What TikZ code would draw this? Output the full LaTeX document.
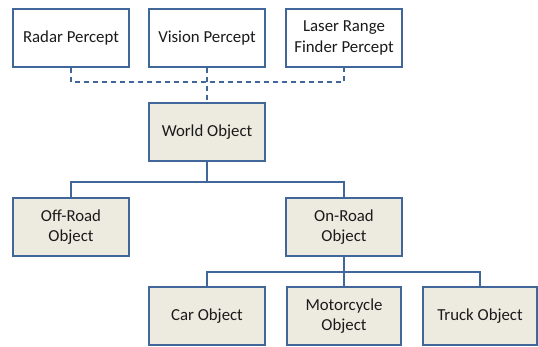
\documentclass[tikz,border=0pt]{standalone}
\usepackage{fontspec}
\setmainfont{Carlito}
\definecolor{bdr}{HTML}{41669A}
\definecolor{fillc}{HTML}{EDEBE0}
\definecolor{txt}{HTML}{1A1A1A}
\begin{document}
\begin{tikzpicture}[x=1pt,y=-1pt,
  box/.style={draw=bdr,line width=1.6pt,minimum width=116pt,minimum height=58pt,align=center,font=\fontsize{16.8}{20.5}\selectfont,text=txt,inner sep=1pt},
  obj/.style={box,fill=fillc},
  perc/.style={box,fill=white},
  link/.style={draw=bdr,line width=1.4pt},
  dlink/.style={link,dashed,dash pattern=on 5pt off 4pt}]
\useasboundingbox (0,0) rectangle (538,347);
\node[perc] (radar) at (71,38) {Radar Percept};
\node[perc] (vision) at (207,38) {Vision Percept};
\node[perc] (laser) at (344,38) {Laser Range\\Finder Percept};
\node[obj] (world) at (207,132) {World Object};
\node[obj] (off) at (71,227) {Off-Road\\Object};
\node[obj] (on) at (344,227) {On-Road\\Object};
\node[obj] (car) at (207,316) {Car Object};
\node[obj,minimum width=114pt] (moto) at (344,316) {Motorcycle\\Object};
\node[obj,minimum width=114pt] (truck) at (480,316) {Truck Object};
\coordinate (dj) at (207,82);
\draw[dlink] (radar.south) |- (dj) -| (laser.south);
\draw[dlink] (vision.south) -- (world.north);
\coordinate (j1) at (207,182);
\draw[link] (world.south) -- (j1);
\draw[link] (off.north) |- (j1) -| (on.north);
\coordinate (j2) at (344,272);
\draw[link] (on.south) -- (moto.north);
\draw[link] (car.north) |- (j2) -| (truck.north);
\end{tikzpicture}
\end{document}
